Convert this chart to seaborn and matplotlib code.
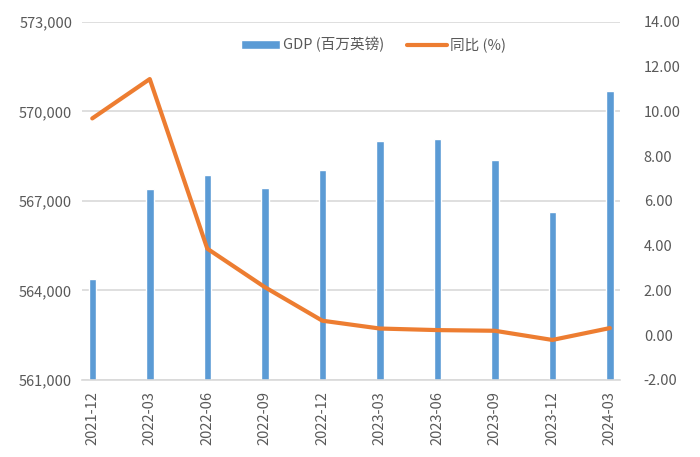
import numpy as np
import pandas as pd
import matplotlib
matplotlib.use("Agg")
import matplotlib.pyplot as plt
import matplotlib.ticker as mticker
import seaborn as sns

# quarterly GDP (million GBP) and year-on-year change (%)
quarters = ["2021-12", "2022-03", "2022-06", "2022-09", "2022-12",
            "2023-03", "2023-06", "2023-09", "2023-12", "2024-03"]
gdp = [564400, 567400, 567870, 567430, 568040,
       569000, 569070, 568380, 566620, 570690]
yoy = [9.69, 11.45, 3.87, 2.15, 0.65, 0.30, 0.23, 0.20, -0.21, 0.32]

df = pd.DataFrame({"quarter": quarters, "gdp": gdp, "yoy": yoy})
df["pos"] = np.arange(len(df))

sns.set_style("white")
plt.rcParams["font.family"] = ["Noto Sans CJK SC", "DejaVu Sans"]

blue = "#5B9BD5"
orange = "#ED7D31"
grey_txt = "#595959"
grid_c = "#D9D9D9"

fig = plt.figure(figsize=(7, 4.57), dpi=100)
ax = fig.add_axes([0.117, 0.1685, 0.769, 0.7834])

sns.barplot(data=df, x="pos", y="gdp", ax=ax, color=blue, width=0.13,
            saturation=1, label="GDP (百万英镑)", zorder=2)
ax.set_ylim(561000, 573000)
ax.set_yticks(np.arange(561000, 573001, 3000))
ax.yaxis.set_major_formatter(mticker.FuncFormatter(lambda v, p: f"{v:,.0f}"))
ax.grid(axis="y", color=grid_c, linewidth=1.2, zorder=0)
ax.set_axisbelow(True)

ax2 = ax.twinx()
sns.lineplot(data=df, x="pos", y="yoy", ax=ax2, color=orange, linewidth=3.0,
             label="同比 (%)", zorder=3)
ax2.set_ylim(-2, 14)
ax2.set_yticks(np.arange(-2, 14.01, 2))
ax2.yaxis.set_major_formatter(mticker.FormatStrFormatter("%.2f"))

ax.set_xlim(-0.18, 9.18)
ax.set_xticks(df["pos"])
ax.set_xticklabels(quarters, rotation=90)
ax.set_xticks(np.append(df["pos"].values - 0.18, 9.18), minor=True)

for a in (ax, ax2):
    a.set_xlabel("")
    a.set_ylabel("")
    for s in a.spines.values():
        s.set_visible(False)
    a.tick_params(axis="y", length=0, labelsize=10.5, labelcolor=grey_txt)
ax.spines["bottom"].set_visible(True)
ax.spines["bottom"].set_color(grid_c)
ax.spines["bottom"].set_linewidth(1.2)
ax.tick_params(axis="y", pad=7)
ax2.tick_params(axis="y", pad=17)
ax.tick_params(axis="x", which="major", length=0, labelsize=10.5,
               labelcolor=grey_txt, pad=8)
ax.tick_params(axis="x", which="minor", length=5, color=grid_c, width=1.2)

ax2.get_legend().remove()
h1, l1 = ax.get_legend_handles_labels()
h2, l2 = ax2.get_legend_handles_labels()
fig.legend(h1 + h2, l1 + l2, loc="center", bbox_to_anchor=(0.533, 0.902),
           ncol=2, frameon=False, fontsize=10.5, handlelength=2.7,
           handleheight=0.6, handletextpad=0.2, columnspacing=1.6,
           labelcolor=grey_txt)
if ax.get_legend() is not None:
    ax.get_legend().remove()

fig.savefig("out.png", dpi=100)
